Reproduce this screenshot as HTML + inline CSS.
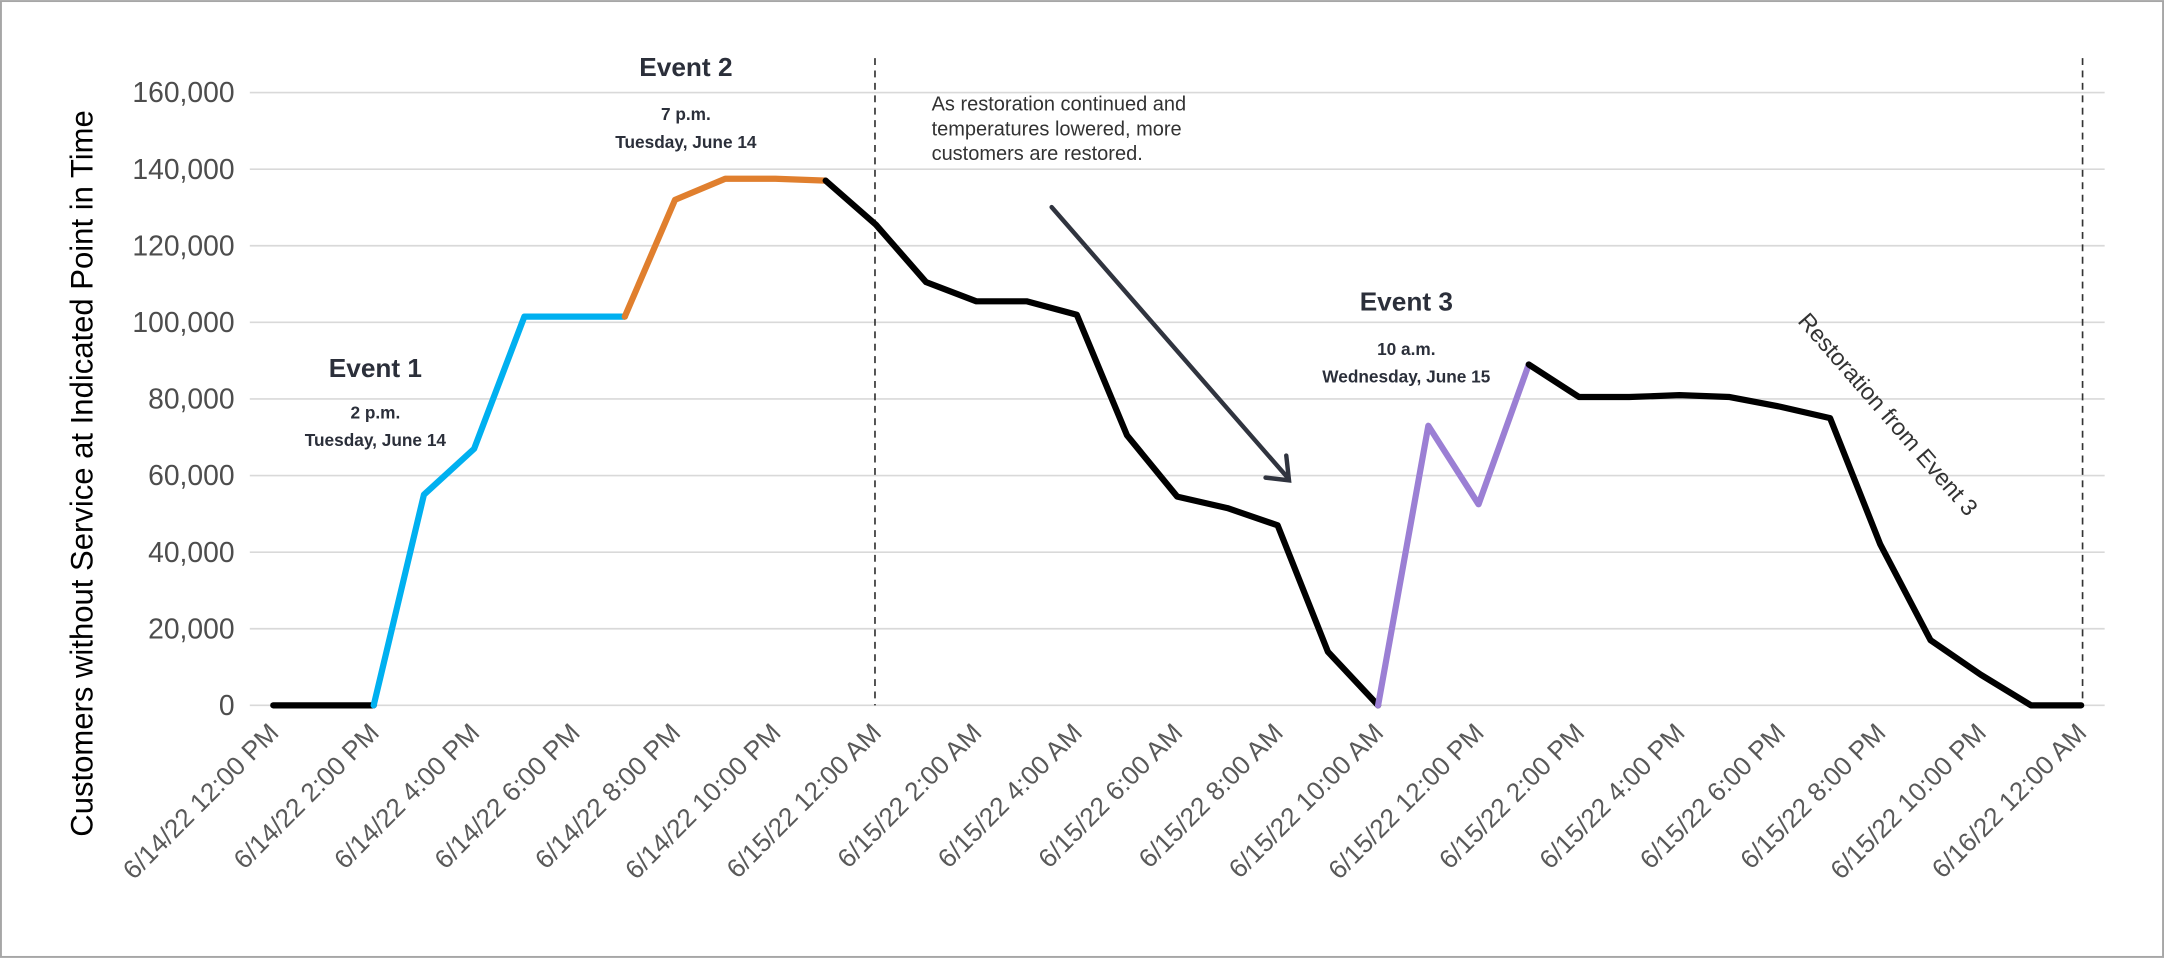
<!DOCTYPE html>
<html><head><meta charset="utf-8"><style>
html,body{margin:0;padding:0;background:#fff}
svg{display:block}
text{font-family:"Liberation Sans",sans-serif}
</style></head><body>
<svg id="chart" width="2164" height="958" viewBox="0 0 1568 694" xmlns="http://www.w3.org/2000/svg">
<rect x="0.7" y="0.7" width="1566.6" height="692.6" fill="#fff" stroke="#a6a6a6" stroke-width="1.4"/>
<g id="grid"></g>
<g id="ylabels"></g>
<g id="xlabels"></g>
<line x1="634" y1="42" x2="634" y2="511" stroke="#333" stroke-width="1.2" stroke-dasharray="5,4"/>
<line x1="1509" y1="42" x2="1509" y2="511" stroke="#333" stroke-width="1.2" stroke-dasharray="5,4"/>
<g id="series"></g>
<text transform="translate(67,343) rotate(-90)" text-anchor="middle" font-size="22.5" fill="#000">Customers without Service at Indicated Point in Time</text>
<g fill="#2b2f3a" font-weight="bold" text-anchor="middle">
<text x="272" y="273" font-size="19">Event 1</text>
<text x="272" y="303" font-size="12.5">2 p.m.</text>
<text x="272" y="323" font-size="12.5">Tuesday, June 14</text></g>
<g fill="#2b2f3a" font-weight="bold" text-anchor="middle">
<text x="497" y="55" font-size="19">Event 2</text>
<text x="497" y="87" font-size="12.5">7 p.m.</text>
<text x="497" y="107" font-size="12.5">Tuesday, June 14</text></g>
<g fill="#2b2f3a" font-weight="bold" text-anchor="middle">
<text x="1019" y="225" font-size="19">Event 3</text>
<text x="1019" y="257" font-size="12.5">10 a.m.</text>
<text x="1019" y="277" font-size="12.5">Wednesday, June 15</text></g>
<g fill="#333" font-size="14.5">
<text x="675" y="80">As restoration continued and</text>
<text x="675" y="98">temperatures lowered, more</text>
<text x="675" y="116">customers are restored.</text></g>
<g stroke="#30343f" stroke-width="3.2" fill="none" stroke-linecap="round">
<line x1="762" y1="150" x2="933" y2="346"/>
<polyline points="917,346 934,348 932,330" stroke-linejoin="miter"/></g>
<text transform="translate(1302,233) rotate(49)" font-size="17" fill="#333">Restoration from Event 3</text>
</svg>
<script>
const xLabels=["6/14/22 12:00 PM","6/14/22 2:00 PM","6/14/22 4:00 PM","6/14/22 6:00 PM","6/14/22 8:00 PM","6/14/22 10:00 PM","6/15/22 12:00 AM","6/15/22 2:00 AM","6/15/22 4:00 AM","6/15/22 6:00 AM","6/15/22 8:00 AM","6/15/22 10:00 AM","6/15/22 12:00 PM","6/15/22 2:00 PM","6/15/22 4:00 PM","6/15/22 6:00 PM","6/15/22 8:00 PM","6/15/22 10:00 PM","6/16/22 12:00 AM"];
const yTicks=[0,20000,40000,60000,80000,100000,120000,140000,160000];
const hours=[0,1,2,3,4,5,6,7,8,9,10,11,12,13,14,15,16,17,18,19,20,21,22,23,24,25,26,27,28,29,30,31,32,33,34,35,36];
const customers=[0,0,0,55000,67000,101500,101500,101500,132000,137500,137500,137000,125500,110500,105500,105500,102000,70500,54500,51500,47000,14000,0,73000,52500,89000,80500,80500,81000,80500,78000,75000,42000,17000,8000,0,0];
const segStart=[0,2,7,11,22,25];
const segEnd=[2,7,11,22,25,36];
const segColor=["#000","#00b0f0","#e07f2e","#000","#9b7fd4","#000"];
const X0=198,X1=1508,Y0=511,Y1=67,HMAX=36,VMAX=160000;
const xs=h=>X0+(X1-X0)*h/HMAX;
const ys=v=>Y0-(Y0-Y1)*v/VMAX;
const NS="http://www.w3.org/2000/svg";
const g=id=>document.getElementById(id);
yTicks.forEach(t=>{
 const l=document.createElementNS(NS,"line");
 
 
 l.setAttribute("x1",181);l.setAttribute("x2",1525);l.setAttribute("y1",ys(t));l.setAttribute("y2",ys(t));
 l.setAttribute("stroke","#d9d9d9");l.setAttribute("stroke-width","1.2");
 g("grid").appendChild(l);
 const tx=document.createElementNS(NS,"text");
 
 
 tx.setAttribute("x",170);tx.setAttribute("y",ys(t)+7);tx.setAttribute("text-anchor","end");
 tx.setAttribute("font-size","20.5");tx.setAttribute("fill","#4d4d4d");
 tx.textContent=t.toLocaleString("en-US");
 g("ylabels").appendChild(tx);
});
xLabels.forEach((s,i)=>{
 const x=xs(i*2);
 const tx=document.createElementNS(NS,"text");
 
 
 tx.setAttribute("transform",`translate(${x+5},${532}) rotate(-45)`);
 tx.setAttribute("text-anchor","end");tx.setAttribute("font-size","19");tx.setAttribute("fill","#595959");
 tx.textContent=s;
 g("xlabels").appendChild(tx);
});
segStart.forEach((a,k)=>{
 const pts=[];
 for(let i=a;i<=segEnd[k];i++)pts.push(xs(hours[i])+","+ys(customers[i]));
 const p=document.createElementNS(NS,"polyline");
 
 
 p.setAttribute("points",pts.join(" "));p.setAttribute("fill","none");
 p.setAttribute("stroke",segColor[k]);p.setAttribute("stroke-width","4.5");
 p.setAttribute("stroke-linejoin","round");p.setAttribute("stroke-linecap","round");
 g("series").appendChild(p);
});
</script>
</body></html>
